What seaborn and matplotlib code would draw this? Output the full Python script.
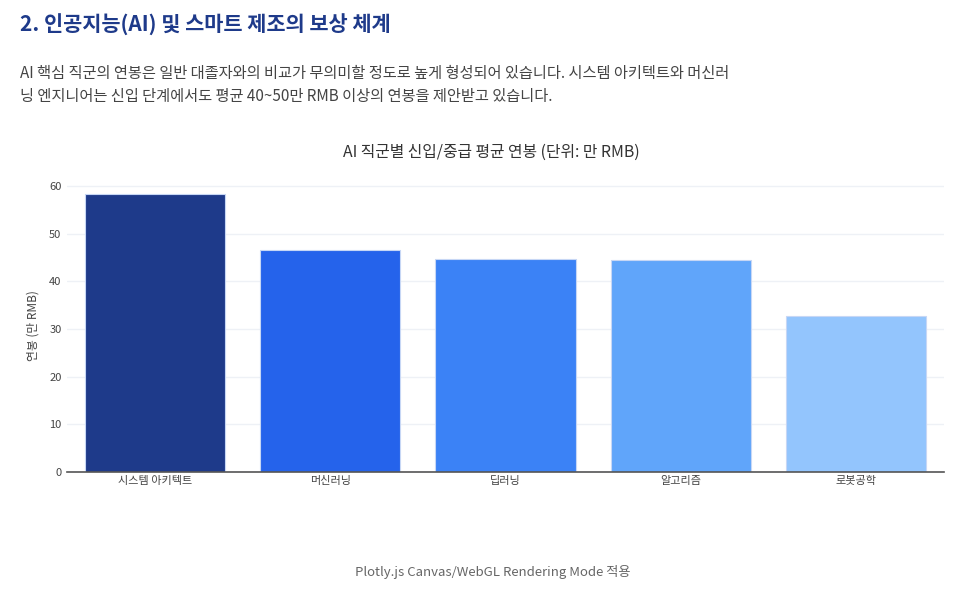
import matplotlib
matplotlib.use('Agg')
import matplotlib.pyplot as plt
import pandas as pd
import seaborn as sns

sns.set_style('white')
plt.rcParams['font.family'] = ['Noto Sans CJK KR', 'DejaVu Sans']

# data
jobs = ['시스템 아키텍트', '머신러닝', '딥러닝', '알고리즘', '로봇공학']
salary = [58.3, 46.5, 44.6, 44.5, 32.7]
colors = ['#1e3a8a', '#2563eb', '#3b82f6', '#60a5fa', '#93c5fd']

df = pd.DataFrame({'job': jobs, 'salary': salary})

fig = plt.figure(figsize=(9.75, 5.99), dpi=100)
ax = fig.add_axes([0.0687, 0.212, 0.8995, 0.488])

sns.barplot(data=df, x='job', y='salary', hue='job', palette=colors,
            saturation=1, width=0.8, edgecolor='#c7d7f5', linewidth=0.8,
            legend=False, ax=ax)

ax.set_xlim(-0.5, 4.5)
ax.set_ylim(0, 61.3)
ax.set_yticks(range(0, 61, 10))
ax.grid(axis='y', color='#eef1f6', linewidth=1)
ax.set_axisbelow(True)
for s in ['top', 'right', 'left']:
    ax.spines[s].set_visible(False)
ax.spines['bottom'].set_color('#555555')
ax.spines['bottom'].set_linewidth(1.2)
ax.tick_params(axis='both', labelsize=8, colors='#444444', length=0, pad=4)
ax.tick_params(axis='x', pad=3)
ax.set_xlabel('')
ax.set_ylabel('연봉 (만 RMB)', fontsize=8.5, color='#444444', labelpad=7)

# plotly centres the chart title on the whole figure
fig.text(0.504, 0.746, 'AI 직군별 신입/중급 평균 연봉 (단위: 만 RMB)', fontsize=11.4,
         color='#333333', ha='center', va='center')

fig.text(0.0205, 0.958, '2. 인공지능(AI) 및 스마트 제조의 보상 체계', fontsize=15,
         fontweight='heavy', color='#1e3a8a', va='center')
fig.text(0.0205, 0.878, 'AI 핵심 직군의 연봉은 일반 대졸자와의 비교가 무의미할 정도로 높게 형성되어 있습니다. 시스템 아키텍트와 머신러',
         fontsize=11, color='#444444', va='center')
fig.text(0.0205, 0.839, '닝 엔지니어는 신입 단계에서도 평균 40~50만 RMB 이상의 연봉을 제안받고 있습니다.',
         fontsize=11, color='#444444', va='center')
fig.text(0.505, 0.045, 'Plotly.js Canvas/WebGL Rendering Mode 적용', fontsize=9.5,
         color='#666666', ha='center', va='center')

fig.savefig('out.png', dpi=100)
